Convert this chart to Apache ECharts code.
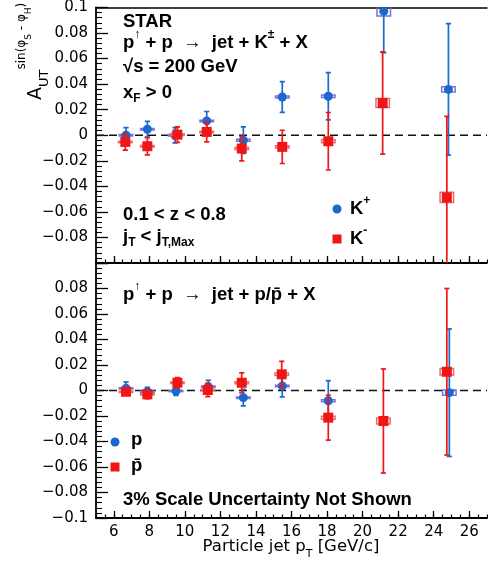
<!DOCTYPE html>
<html>
<head>
<meta charset="utf-8">
<script src="https://cdn.jsdelivr.net/npm/echarts@6/dist/echarts.min.js"></script>
<style>
  html, body { margin: 0; padding: 0; background: #fff; }
  #chart { width: 488px; height: 563px; }
</style>
</head>
<body>
<div id="chart"></div>
<script>
// Axis ranges and tick labels
const xMin = 5, xMax = 27;
const xMajorTicks = [6, 8, 10, 12, 14, 16, 18, 20, 22, 24, 26];
const yMin = -0.1, yMax = 0.1, yStep = 0.02;

// Upper panel: K+ and K- asymmetries vs particle jet pT
const kPlusPt   = [6.69, 7.89, 9.45, 11.23, 13.29, 15.48, 18.07, 21.19, 24.83];
const kPlusA    = [0.0000, 0.0047, 0.0000, 0.0112, -0.0039, 0.0299, 0.0305, 0.0971, 0.0359];
const kPlusStat = [0.0060, 0.0061, 0.0060, 0.0074, 0.0104, 0.0120, 0.0185, 0.0325, 0.0514];
const kPlusSys  = [0.0006, 0.0006, 0.0006, 0.0006, 0.0008, 0.0008, 0.0010, 0.0037, 0.0020];

const kMinusPt   = [6.65, 7.89, 9.58, 11.23, 13.20, 15.48, 18.07, 21.13, 24.74];
const kMinusA    = [-0.0052, -0.0086, 0.0005, 0.0026, -0.0104, -0.0091, -0.0047, 0.0252, -0.0487];
const kMinusStat = [0.0065, 0.0068, 0.0060, 0.0078, 0.0096, 0.0130, 0.0225, 0.0400, 0.0635];
const kMinusSys  = [0.0006, 0.0006, 0.0006, 0.0006, 0.0008, 0.0008, 0.0012, 0.0035, 0.0040];

// Lower panel: p and pbar asymmetries vs particle jet pT
const protonPt   = [6.69, 7.89, 9.50, 11.32, 13.29, 15.48, 18.07, 24.88];
const protonA    = [0.0017, -0.0010, -0.0004, 0.0030, -0.0056, 0.0035, -0.0080, -0.0017];
const protonStat = [0.0050, 0.0035, 0.0035, 0.0050, 0.0065, 0.0085, 0.0157, 0.0500];
const protonSys  = [0.0005, 0.0005, 0.0005, 0.0005, 0.0006, 0.0006, 0.0008, 0.0020];

const pbarPt   = [6.69, 7.89, 9.58, 11.29, 13.20, 15.45, 18.07, 21.17, 24.74];
const pbarA    = [-0.0010, -0.0030, 0.0061, 0.0004, 0.0061, 0.0127, -0.0213, -0.0239, 0.0147];
const pbarStat = [0.0025, 0.0035, 0.0040, 0.0052, 0.0078, 0.0102, 0.0176, 0.0408, 0.0653];
const pbarSys  = [0.0005, 0.0005, 0.0006, 0.0006, 0.0008, 0.0010, 0.0012, 0.0024, 0.0026];

const FONT = '"DejaVu Sans", sans-serif';
const BOLD_FONT = '"Liberation Sans", Arial, sans-serif';
const BLUE = '#1b68d0', RED = '#f11616';
const BLUE_SYS = '#7a72d8', RED_SYS = '#e07070';
const boxHalfWidth = 0.38;

const zip = (xs, ys, es) => xs.map((x, i) => [x, ys[i], es[i]]);

// vertical statistical error bars with small caps
function errorBars(xi, yi, xs, ys, es, color, z) {
  return {
    type: 'custom', xAxisIndex: xi, yAxisIndex: yi, z, clip: true, silent: true,
    data: zip(xs, ys, es),
    renderItem(params, api) {
      const x = api.value(0), y = api.value(1), e = api.value(2);
      const hi = api.coord([x, y + e]), lo = api.coord([x, y - e]);
      const c = 2.6, st = { stroke: color, lineWidth: 1.7 };
      return { type: 'group', children: [
        { type: 'line', shape: { x1: hi[0], y1: hi[1], x2: lo[0], y2: lo[1] }, style: st },
        { type: 'line', shape: { x1: hi[0] - c, y1: hi[1], x2: hi[0] + c, y2: hi[1] }, style: st },
        { type: 'line', shape: { x1: lo[0] - c, y1: lo[1], x2: lo[0] + c, y2: lo[1] }, style: st }
      ]};
    }
  };
}

// open boxes for systematic uncertainties
function sysBoxes(xi, yi, xs, ys, ss, color, z) {
  return {
    type: 'custom', xAxisIndex: xi, yAxisIndex: yi, z, clip: true, silent: true,
    data: zip(xs, ys, ss),
    renderItem(params, api) {
      const x = api.value(0), y = api.value(1), s = api.value(2);
      const a = api.coord([x - boxHalfWidth, y + s]);
      const b = api.coord([x + boxHalfWidth, y - s]);
      return { type: 'rect',
        shape: { x: a[0], y: a[1], width: b[0] - a[0], height: b[1] - a[1] },
        style: { stroke: color, lineWidth: 1.5, fill: 'none' } };
    }
  };
}

function markers(xi, yi, xs, ys, symbol, size, color, z) {
  return {
    type: 'scatter', xAxisIndex: xi, yAxisIndex: yi, z, silent: true,
    symbol, symbolSize: size, itemStyle: { color, opacity: 1 },
    data: xs.map((x, i) => [x, ys[i]])
  };
}

function zeroLine(xi, yi) {
  return {
    type: 'line', xAxisIndex: xi, yAxisIndex: yi, z: 1, silent: true,
    symbol: 'none', data: [[xMin, 0], [xMax, 0]],
    lineStyle: { color: '#111', width: 1.5, type: [8, 5] }
  };
}

function yLabel(hidden) {
  return v => {
    const r = Math.round(v * 100) / 100;
    if (Math.abs(r - hidden) < 1e-9) return '';
    if (r === 0) return '0';
    return (r < 0 ? '\u2212' : '') + String(Math.abs(r));
  };
}

function yAxis(gridIndex, hidden) {
  return {
    type: 'value', gridIndex, min: yMin, max: yMax, interval: yStep,
    axisLine: { show: true, onZero: false, lineStyle: { color: '#000', width: 1.8 } },
    axisTick: { show: true, inside: true, length: 12, lineStyle: { color: '#000', width: 1.3 } },
    minorTick: { show: true, splitNumber: 5, length: 6, lineStyle: { color: '#000', width: 1.1 } },
    splitLine: { show: false },
    axisLabel: { margin: 8, fontFamily: FONT, fontSize: 15, color: '#000',
                 showMinLabel: true, showMaxLabel: true, formatter: yLabel(hidden) }
  };
}

const lineBlack = { color: '#000', width: 1.8 };
function xMinorAxis(gridIndex) {
  return {
    type: 'value', gridIndex, position: 'bottom', min: xMin, max: xMax, interval: 0.5,
    axisLine: { show: true, onZero: false, lineStyle: lineBlack },
    axisTick: { show: true, inside: true, length: 3.5, lineStyle: { color: '#000', width: 1.2 } },
    axisLabel: { show: false }, splitLine: { show: false }
  };
}
function xMajorAxis(gridIndex, labels) {
  return {
    type: 'value', gridIndex, position: 'bottom', min: xMin, max: xMax,
    axisLine: { show: false, onZero: false },
    axisTick: { show: true, inside: true, length: 7, customValues: xMajorTicks,
                lineStyle: { color: '#000', width: 1.3 } },
    axisLabel: { show: labels, customValues: xMajorTicks, margin: 7,
                 fontFamily: FONT, fontSize: 15, color: '#000' },
    splitLine: { show: false }
  };
}

const bold = (size) => ({ fontFamily: BOLD_FONT, fontWeight: 'bold', fontSize: size });
const supB = { ...bold(12), verticalAlign: 'top', lineHeight: 12 };
const subB = { ...bold(12), verticalAlign: 'bottom', lineHeight: 12, padding: [0, 0, 2, 0] };
const TS = 18.5;

function label(x, y, text, size, rich) {
  return {
    type: 'text', x, y, z: 100, silent: true,
    style: { text, ...bold(size), fill: '#000', align: 'left', verticalAlign: 'middle',
             lineHeight: 28, rich: rich || {} }
  };
}

const normal = (size) => ({ fontFamily: FONT, fontWeight: 'normal', fontSize: size });

const graphic = [
  // upper panel text
  label(123, 22, 'STAR', TS),
  label(123, 43, 'p{sup|\u2191} + p  \u2192  jet + K{sup|\u00b1} + X', TS, { sup: supB }),
  label(123, 67, '\u221as = 200 GeV', TS),
  label(123, 93, 'x{sub|F} > 0', TS, { sub: subB }),
  label(123, 215, '0.1 < z < 0.8', TS),
  label(123, 237, 'j{sub|T} < j{sub|T,Max}', TS, { sub: subB }),
  { type: 'circle', z: 100, silent: true, shape: { cx: 337, cy: 209, r: 4.5 }, style: { fill: BLUE } },
  label(350, 209, 'K{sup|+}', TS, { sup: supB }),
  { type: 'rect', z: 100, silent: true, shape: { x: 332.5, y: 234.5, width: 9, height: 9 }, style: { fill: RED } },
  label(350, 239, 'K{sup|-}', TS, { sup: supB }),
  // lower panel text
  label(123, 295, 'p{sup|\u2191} + p  \u2192  jet + p/p\u0304 + X', TS, { sup: supB }),
  { type: 'circle', z: 100, silent: true, shape: { cx: 115, cy: 442, r: 4.5 }, style: { fill: BLUE } },
  label(131, 440, 'p', TS),
  { type: 'rect', z: 100, silent: true, shape: { x: 110.5, y: 462.5, width: 9, height: 9 }, style: { fill: RED } },
  label(131, 466, 'p\u0304', TS),
  label(123, 500, '3% Scale Uncertainty Not Shown', TS),
  // axis titles
  {
    type: 'text', x: 291, y: 547, z: 100, silent: true,
    style: { text: 'Particle jet p{sub|T} [GeV/c]', ...normal(16.5), fill: '#000',
             align: 'center', verticalAlign: 'middle', lineHeight: 26,
             rich: { sub: { ...normal(11), verticalAlign: 'bottom', lineHeight: 12 } } }
  },
  {
    type: 'text', x: 36, y: 100, rotation: Math.PI / 2, z: 100, silent: true,
    style: {
      text: '{a|A}{u|UT}{s|sin(\u03c6}{ss|S}{s| - \u03c6}{ss|H}{s|)}',
      fill: '#000', align: 'left', verticalAlign: 'middle', lineHeight: 40,
      ...normal(19),
      rich: {
        a: { ...normal(19), lineHeight: 40, verticalAlign: 'middle' },
        u: { ...normal(13), lineHeight: 14, verticalAlign: 'bottom', padding: [0, 0, 5, 0] },
        s: { ...normal(12), lineHeight: 13, verticalAlign: 'top' },
        ss: { ...normal(9), lineHeight: 10, verticalAlign: 'top', padding: [8, 0, 0, 0] }
      }
    }
  }
];

const option = {
  animation: false,
  backgroundColor: '#fff',
  grid: [
    { left: 96, top: 7, width: 391, height: 256 },
    { left: 96, top: 263, width: 391, height: 255 }
  ],
  xAxis: [
    xMinorAxis(0),
    xMajorAxis(0, false),
    { type: 'value', gridIndex: 0, position: 'top', min: xMin, max: xMax,
      axisLine: { show: true, onZero: false, lineStyle: { color: '#000', width: 1.5 } },
      axisTick: { show: false }, axisLabel: { show: false }, splitLine: { show: false } },
    xMinorAxis(1),
    xMajorAxis(1, true)
  ],
  yAxis: [yAxis(0, -0.1), yAxis(1, 0.1)],
  series: [
    zeroLine(0, 0),
    sysBoxes(0, 0, kPlusPt, kPlusA, kPlusSys, BLUE_SYS, 2),
    errorBars(0, 0, kPlusPt, kPlusA, kPlusStat, BLUE, 3),
    markers(0, 0, kPlusPt, kPlusA, 'circle', 9, BLUE, 4),
    sysBoxes(0, 0, kMinusPt, kMinusA, kMinusSys, RED_SYS, 5),
    errorBars(0, 0, kMinusPt, kMinusA, kMinusStat, RED, 6),
    markers(0, 0, kMinusPt, kMinusA, 'rect', 10, RED, 7),

    zeroLine(3, 1),
    sysBoxes(3, 1, protonPt, protonA, protonSys, BLUE_SYS, 2),
    errorBars(3, 1, protonPt, protonA, protonStat, BLUE, 3),
    markers(3, 1, protonPt, protonA, 'circle', 9, BLUE, 4),
    sysBoxes(3, 1, pbarPt, pbarA, pbarSys, RED_SYS, 5),
    errorBars(3, 1, pbarPt, pbarA, pbarStat, RED, 6),
    markers(3, 1, pbarPt, pbarA, 'rect', 10, RED, 7)
  ],
  graphic
};

echarts.init(document.getElementById('chart'), null, { renderer: 'canvas' }).setOption(option);
</script>
</body>
</html>
